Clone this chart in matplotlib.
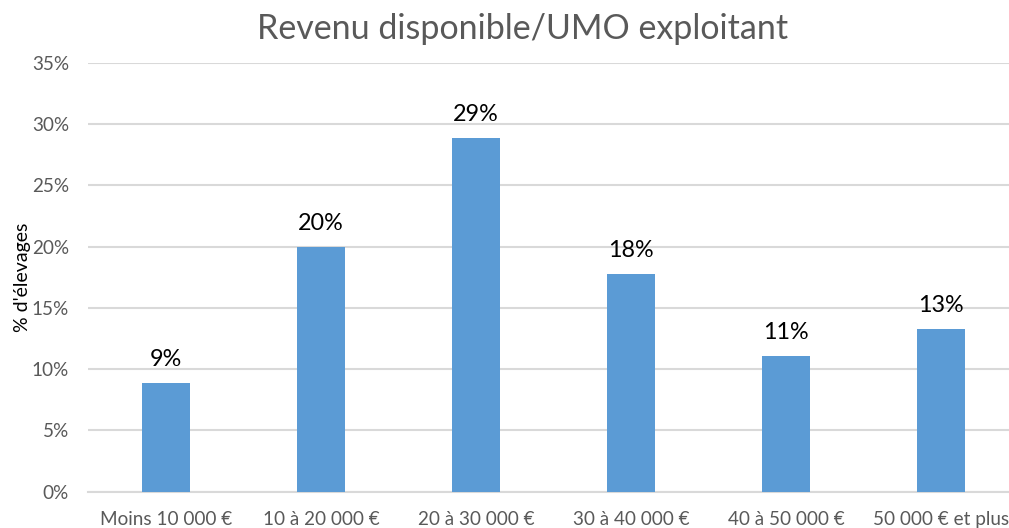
import matplotlib
matplotlib.use("Agg")
import matplotlib.pyplot as plt
from matplotlib.ticker import MultipleLocator, FuncFormatter

categories = ["Moins 10 000 €", "10 à 20 000 €", "20 à 30 000 €",
              "30 à 40 000 €", "40 à 50 000 €", "50 000 € et plus"]
values = [8.9, 20.0, 28.9, 17.8, 11.1, 13.3]
labels = ["9%", "20%", "29%", "18%", "11%", "13%"]

plt.rcParams['font.family'] = ['Lato', 'DejaVu Sans']

fig = plt.figure(figsize=(10.09, 5.28), dpi=100)
ax = fig.add_axes([0.0877, 0.069, 0.9217, 0.8116])

x = range(len(categories))
bars = ax.bar(x, values, width=0.31, color="#5B9BD5", zorder=3)
for xi, v, lab in zip(x, values, labels):
    ax.text(xi, v + 1.0, lab, ha="center", va="bottom", fontsize=16.8, color="#000000")

ax.set_xlim(-0.5, len(categories) - 0.5)
ax.set_ylim(0, 35)
ax.yaxis.set_major_locator(MultipleLocator(5))
ax.yaxis.set_major_formatter(FuncFormatter(lambda v, p: f"{v:.0f}%"))
ax.set_xticks(list(x))
ax.set_xticklabels(categories)
ax.tick_params(axis="both", length=0, labelsize=13.6, labelcolor="#595959")
ax.tick_params(axis="x", pad=14)
ax.tick_params(axis="y", pad=14)
ax.grid(axis="y", color="#D9D9D9", linewidth=1.5, zorder=0)
for s in ["top", "right", "left"]:
    ax.spines[s].set_visible(False)
ax.spines["bottom"].set_color("#D9D9D9")
ax.spines["bottom"].set_linewidth(1.5)

ax.set_ylabel("% d'élevages", fontsize=14, color="#000000", labelpad=2)
ax.yaxis.set_label_coords(-0.062, 0.50)
fig.text(0.518, 0.945, "Revenu disponible/UMO exploitant", ha="center", va="center",
         fontsize=24.5, color="#595959")

fig.savefig("out.png", dpi=100)
